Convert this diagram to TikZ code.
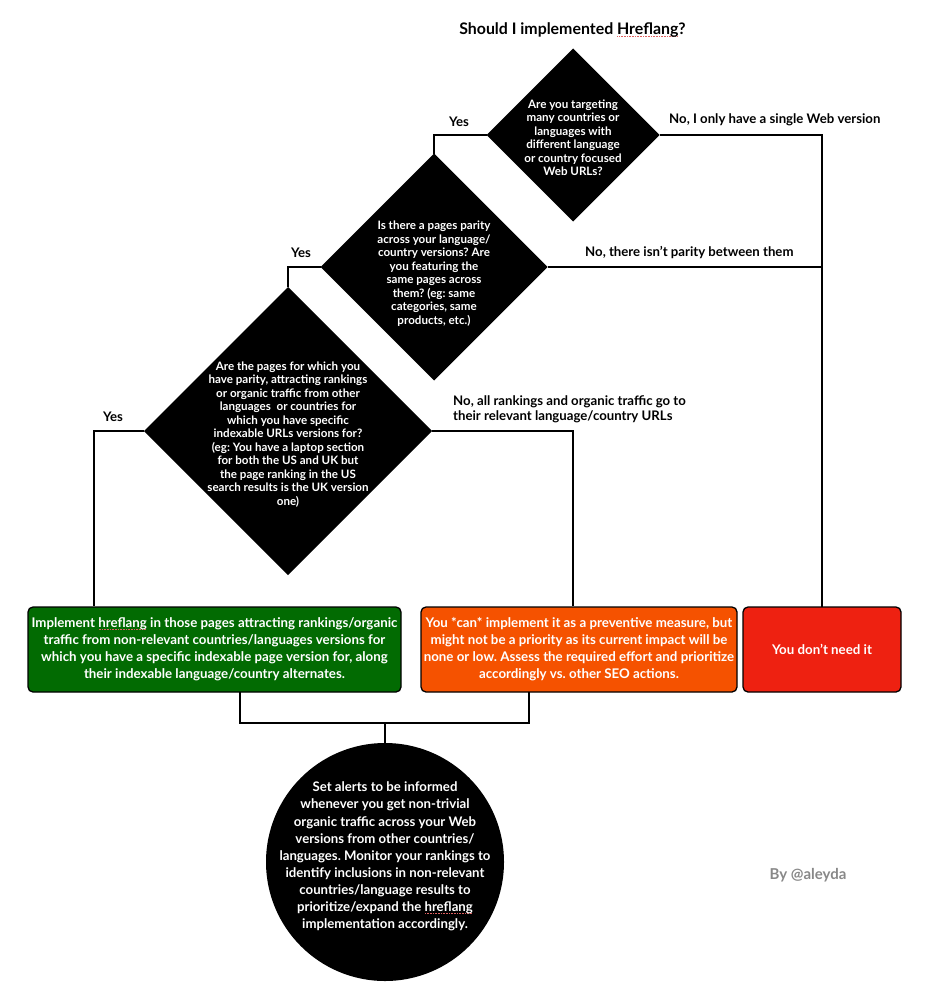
\documentclass[tikz,border=0pt]{standalone}
\usepackage{fontspec}
\setmainfont{Lato}
\usetikzlibrary{shapes.geometric}
\definecolor{gbox}{HTML}{026B02}
\definecolor{obox}{HTML}{F55200}
\definecolor{rbox}{HTML}{EE2111}
\definecolor{sig}{HTML}{888888}
\definecolor{spellred}{HTML}{E06060}
\newcommand\spellmark[1]{\setbox0\hbox{#1}\rlap{\raisebox{-2.2pt}{\color{spellred}\leaders\hbox to 1.6pt{\hss\rule{0.8pt}{0.8pt}\hss}\hskip\wd0}}#1}
\frenchspacing
\begin{document}
\begin{tikzpicture}[x=1pt,y=-1pt,
  dia/.style={shape=diamond,fill=black,draw=none,minimum width=#1,minimum height=#1,inner sep=0pt,outer sep=0pt},
  dtext/.style={text=white,font=\frenchspacing\bfseries\fontsize{11.6}{13.5}\selectfont,align=center,inner sep=0pt},
  box/.style={draw=black,line width=1.3pt,rounded corners=5pt,text=white,align=center,
    font=\frenchspacing\bfseries\fontsize{13.3}{17}\selectfont,inner sep=0pt,outer sep=0pt,minimum height=85pt},
  lbl/.style={font=\frenchspacing\bfseries\fontsize{13.2}{15.3}\selectfont,inner sep=0pt},
  conn/.style={line width=2pt}]
\useasboundingbox (0,0) rectangle (924,982);

\node[font=\bfseries\fontsize{15.9}{18}\selectfont,inner sep=0pt] (title) at (572.5,30) {Should I implemented \spellmark{Hreflang}?};

% diamonds
\node[dia=173pt] (d1) at (573,135) {};
\node[dtext] (d1t) at (573,137.5) {Are you targeting\\many countries or\\languages with\\different language\\or country focused\\Web URLs?};
\node[dia=227pt] (d2) at (434,267) {};
\node[dtext] (d2t) at (434,273.5) {Is there a pages parity\\across your language/\\country versions? Are\\you featuring the\\same pages across\\them? (eg: same\\categories, same\\products, etc.)};
\node[dia=288pt] (d3) at (288,431) {};
\node[dtext] (d3t) at (288,434.5) {Are the pages for which you\\have parity, attracting rankings\\or organic traffic from other\\languages\ \ or countries for\\which you have specific\\indexable URLs versions for?\\(eg: You have a laptop section\\for both the US and UK but\\the page ranking in the US\\search results is the UK version\\one)};

% boxes
\node[box,fill=gbox,minimum width=373pt] (green) at (214.5,649.5) {Implement \spellmark{hreflang} in those pages attracting rankings/organic\\traffic from non-relevant countries/languages versions for\\which you have a specific indexable page version for, along\\their indexable language/country alternates.};
\node[box,fill=obox,minimum width=316pt] (orange) at (579,649.5) {You *can* implement it as a preventive measure, but\\might not be a priority as its current impact will be\\none or low. Assess the required effort and prioritize\\accordingly vs. other SEO actions.};
\node[box,fill=rbox,minimum width=158pt] (red) at (822,649.5) {You don’t need it};

% circle
\node[shape=circle,fill=black,minimum size=238pt,inner sep=0pt,outer sep=0pt] (circ) at (385,862) {};
\node[dtext,font=\frenchspacing\bfseries\fontsize{13.2}{17.1}\selectfont] (circt) at (385,856.5) {Set alerts to be informed\\whenever you get non-trivial\\organic traffic across your Web\\versions from other countries/\\languages. Monitor your rankings to\\identify inclusions in non-relevant\\countries/language results to\\prioritize/expand the \spellmark{hreflang}\\implementation accordingly.};

% labels
\node[lbl] (y1) at (459,122) {Yes};
\node[lbl] (y2) at (301,253) {Yes};
\node[lbl] (y3) at (113,417) {Yes};
\node[lbl,anchor=west] (n1) at (669,120) {No, I only have a single Web version};
\node[lbl,anchor=west] (n2) at (585,253) {No, there isn’t parity between them};
\node[lbl,anchor=west,align=left] (n3) at (453,409.5) {No, all rankings and organic traffic go to\\their relevant language/country URLs};
\node[lbl,text=sig,font=\bfseries\fontsize{15}{17}\selectfont] (sign) at (808,875) {By @aleyda};

% connector points
\coordinate (gIn) at (94,606);
\coordinate (oIn) at (573,606);
\coordinate (gOut) at (240,692);
\coordinate (oOut) at (529,692);
\coordinate (j1) at (385,723);

% connectors
\draw[conn] (d1.west) -| (d2.north);
\draw[conn] (d1.east) -| (red.north);
\draw[conn] (d2.east) -- (d2.east -| red.north);
\draw[conn] (d2.west) -| (d3.north);
\draw[conn] (d3.west) -| (gIn);
\draw[conn] (d3.east) -| (oIn);
\draw[conn] (gOut) |- (j1) -| (oOut);
\draw[conn] (j1) -- (circ.north);
\end{tikzpicture}
\end{document}
